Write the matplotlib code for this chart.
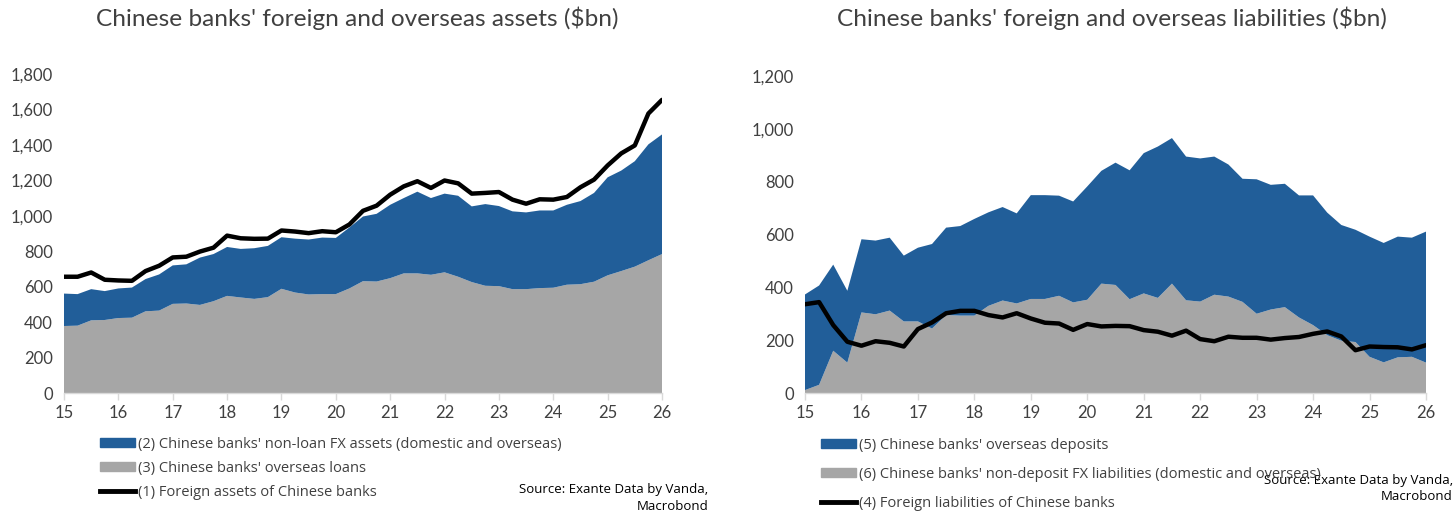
import numpy as np
import matplotlib
matplotlib.use("Agg")
import matplotlib.pyplot as plt
from matplotlib.patches import Patch
from matplotlib.lines import Line2D

# quarterly observations, 2015 to 2026 (x axis shows two-digit years)
x = np.arange(45) / 4 + 15

# left chart: assets ($bn)
total_assets = [656, 656, 680, 639, 635, 633, 688, 718, 765, 769, 798, 820,
                888, 873, 870, 871, 917, 911, 902, 913, 907, 951, 1028, 1057,
                1119, 1166, 1195, 1157, 1199, 1183, 1125, 1129, 1134, 1091, 1068, 1093,
                1091, 1106, 1161, 1204, 1284, 1352, 1397, 1577, 1654]
assets_stack_top = [561, 558, 586, 575, 590, 595, 643, 669, 720, 726, 764, 784,
                    824, 813, 817, 830, 879, 871, 866, 877, 875, 934, 996, 1011,
                    1062, 1100, 1136, 1100, 1125, 1113, 1053, 1066, 1055, 1025, 1019, 1030,
                    1030, 1062, 1083, 1129, 1217, 1255, 1308, 1403, 1459]
overseas_loans = [378, 380, 410, 412, 423, 425, 461, 465, 503, 505, 497, 518,
                  548, 539, 531, 541, 588, 567, 556, 558, 558, 590, 631, 629,
                  648, 675, 675, 667, 681, 656, 626, 605, 603, 586, 586, 592,
                  594, 611, 614, 628, 664, 688, 713, 749, 784]
nonloan_fx = [t - g for t, g in zip(assets_stack_top, overseas_loans)]

# right chart: liabilities ($bn)
total_liab = [336, 344, 257, 194, 179, 196, 190, 176, 242, 267, 302, 311,
              311, 295, 286, 302, 282, 266, 263, 239, 261, 252, 254, 253,
              238, 232, 217, 236, 204, 196, 213, 209, 209, 202, 208, 212,
              224, 233, 214, 162, 176, 174, 173, 165, 181]
liab_stack_top = [373, 407, 486, 387, 582, 577, 588, 520, 550, 564, 626, 632,
                  659, 684, 704, 680, 749, 749, 747, 725, 782, 841, 872, 843,
                  908, 933, 965, 895, 888, 895, 865, 811, 809, 788, 792, 748,
                  748, 683, 636, 618, 592, 568, 592, 588, 611]
nondeposit_fx = [11, 31, 160, 115, 305, 298, 312, 271, 271, 244, 295, 293,
                 293, 330, 350, 339, 356, 356, 368, 343, 353, 414, 409, 355,
                 377, 360, 414, 351, 346, 372, 365, 345, 300, 316, 325, 286,
                 257, 219, 198, 193, 137, 116, 135, 137, 115]
overseas_dep = [t - g for t, g in zip(liab_stack_top, nondeposit_fx)]

titles = ["Chinese banks' foreign and overseas assets ($bn)",
          "Chinese banks' foreign and overseas liabilities ($bn)"]
left_labels = ["(2) Chinese banks' non-loan FX assets (domestic and overseas)",
               "(3) Chinese banks' overseas loans",
               "(1) Foreign assets of Chinese banks"]
right_labels = ["(5) Chinese banks' overseas deposits",
                "(6) Chinese banks' non-deposit FX liabilities (domestic and overseas)",
                "(4) Foreign liabilities of Chinese banks"]
years = list(range(15, 27))

BLUE = "#215e99"
GREY = "#a6a6a6"
TXT = "#404040"

plt.rcParams['font.family'] = ['Lato', 'DejaVu Sans']

fig = plt.figure(figsize=(14.56, 5.14), dpi=100)
ax1 = fig.add_axes([64 / 1456, 1 - 393 / 514, 598 / 1456, 319 / 514])
ax2 = fig.add_axes([805 / 1456, 1 - 393 / 514, 621 / 1456, 317 / 514])


def style(ax, ymax, step):
    ax.set_xlim(15, 26)
    ax.set_ylim(0, ymax)
    ax.set_xticks(years)
    ax.set_xticklabels([str(y) for y in years])
    yt = np.arange(0, ymax + 1, step)
    ax.set_yticks(yt)
    ax.set_yticklabels([f"{v:,}" for v in yt])
    for s in ["top", "right", "left"]:
        ax.spines[s].set_visible(False)
    ax.spines["bottom"].set_color("#d9d9d9")
    ax.spines["bottom"].set_linewidth(1.0)
    ax.tick_params(axis="x", colors="#d9d9d9", length=5, width=1, labelcolor=TXT,
                   labelsize=12, pad=4)
    ax.tick_params(axis="y", length=0, labelcolor=TXT, labelsize=12, pad=8)
    ax.set_facecolor("none")


ax1.stackplot(x, overseas_loans, nonloan_fx, colors=[GREY, BLUE], linewidth=0)
ax1.plot(x, total_assets, color="black", lw=3.2, solid_capstyle="round")
style(ax1, 1800, 200)

ax2.stackplot(x, nondeposit_fx, overseas_dep, colors=[GREY, BLUE], linewidth=0)
ax2.plot(x, total_liab, color="black", lw=3.2, solid_capstyle="round")
style(ax2, 1200, 200)

fig.text(357 / 1456, 1 - 18 / 514, titles[0], ha="center", va="center",
         fontsize=17.6, color=TXT)
fig.text(1112 / 1456, 1 - 18 / 514, titles[1], ha="center", va="center",
         fontsize=17.6, color=TXT)

handles = [Patch(facecolor=BLUE, edgecolor=BLUE),
           Patch(facecolor=GREY, edgecolor=GREY),
           Line2D([], [], color="black", lw=3.5)]

leg_kw = dict(frameon=False, handlelength=2.4, handleheight=0.6, handletextpad=0.25,
              borderaxespad=0, prop={"family": ["Open Sans", "DejaVu Sans"], "size": 10.5},
              labelcolor=TXT)
fig.legend(handles, left_labels, loc="upper left",
           bbox_to_anchor=(94 / 1456, 1 - 431 / 514), labelspacing=0.62, **leg_kw)
fig.legend(handles, right_labels, loc="upper left",
           bbox_to_anchor=(815 / 1456, 1 - 432 / 514), labelspacing=0.97, **leg_kw)

src = "Source: Exante Data by Vanda,\nMacrobond"
fig.text(708 / 1456, 1 - 483 / 514, src, ha="right", va="top", fontsize=9.5,
         color="black", linespacing=1.35, family=["Open Sans", "DejaVu Sans"])
fig.text(1453 / 1456, 1 - 474 / 514, src, ha="right", va="top", fontsize=9.5,
         color="black", linespacing=1.35, family=["Open Sans", "DejaVu Sans"])

fig.savefig("out.png", dpi=100, facecolor="white")
